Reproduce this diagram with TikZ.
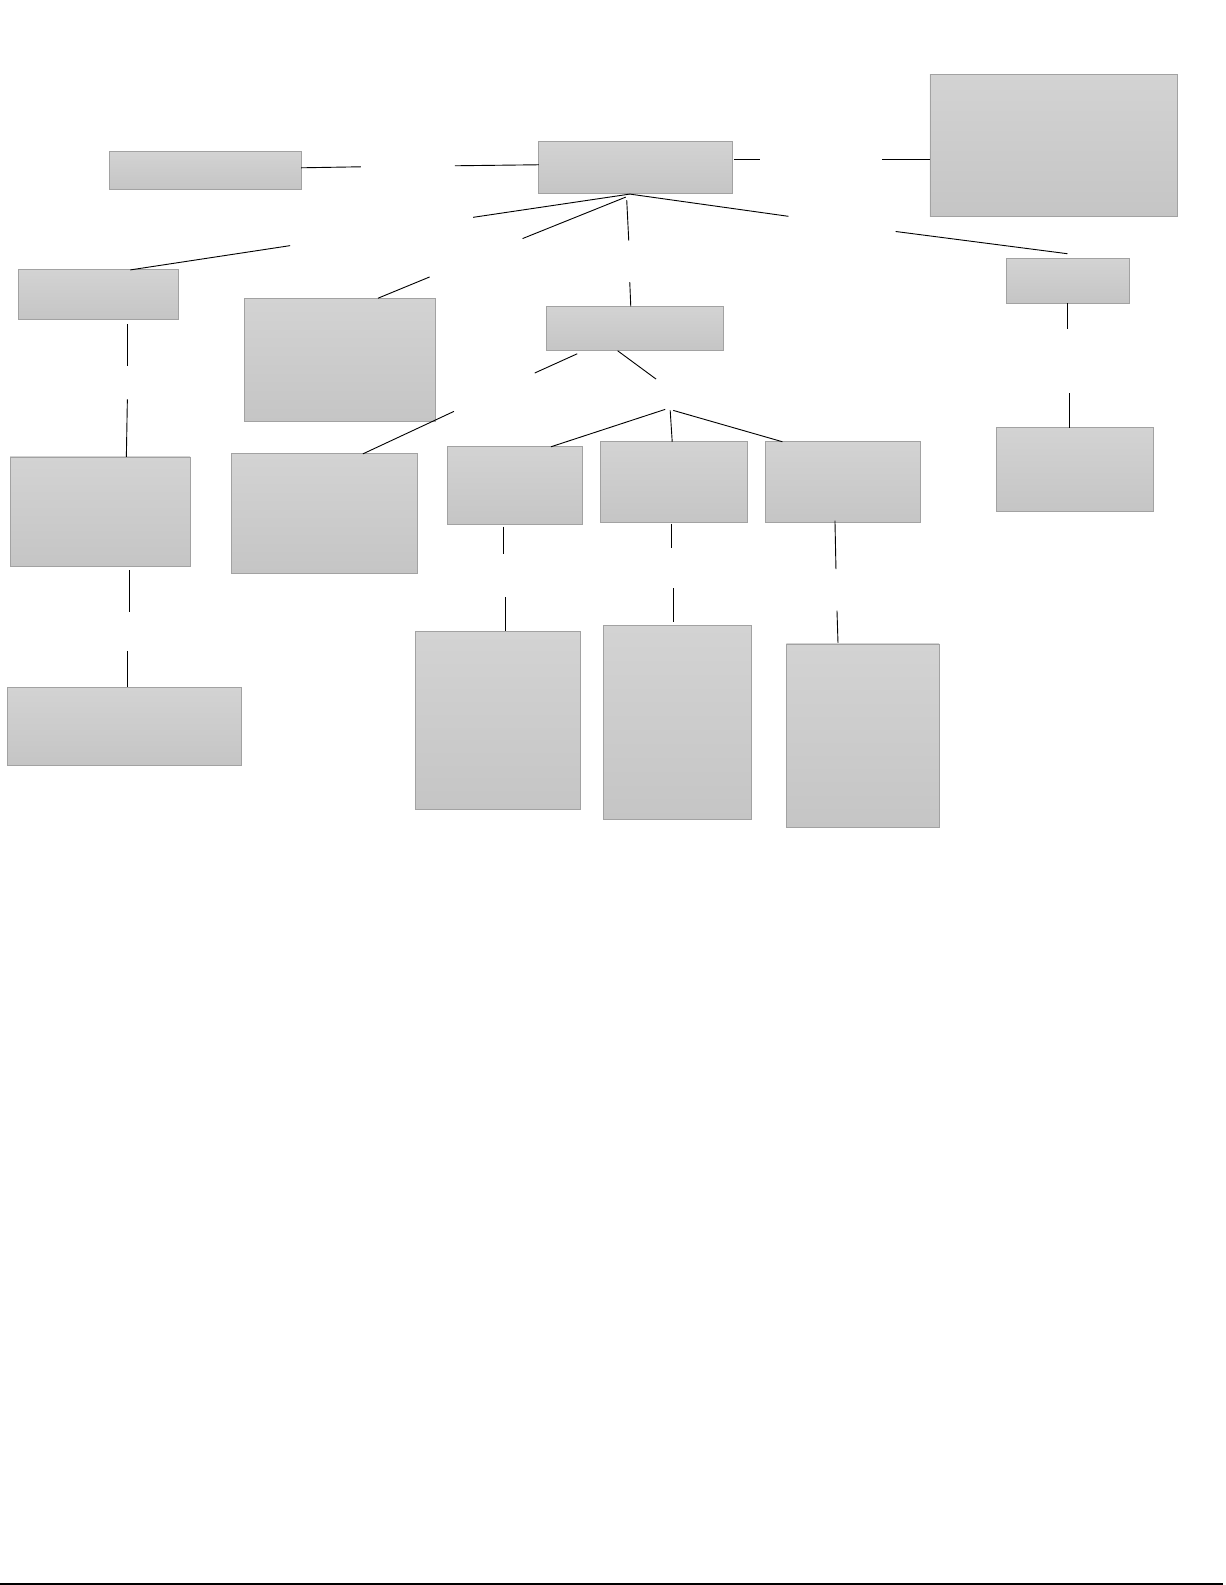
\documentclass[tikz,border=0pt]{standalone}
\usetikzlibrary{calc}
\definecolor{boxtop}{HTML}{D3D3D3}
\definecolor{boxbot}{HTML}{C5C5C5}
\definecolor{boxline}{HTML}{A2A2A2}
\tikzset{
  cbox/.style={rectangle, draw=boxline, line width=0.8pt, top color=boxtop, bottom color=boxbot, inner sep=0pt, outer sep=0pt},
  link/.style={draw=black, line width=0.9pt},
}
\newcommand\bx[5]{\node[cbox, minimum width={(#4-#2)*1pt}, minimum height={(#5-#3)*1pt}] (#1) at ({(#2+#4)/2},{(#3+#5)/2}) {};}
\begin{document}
\begin{tikzpicture}[x=1pt,y=-1pt]
\useasboundingbox (0,0) rectangle (1212,1568);
% boxes
\bx{A}{108}{150}{298}{187}
\bx{C}{533}{140}{725}{191}
\bx{TR}{920}{74}{1165}{214}
\bx{L1}{18}{267}{176}{316}
\bx{M1}{242}{295}{431}{417}
\bx{Mid}{541}{303}{716}{347}
\bx{R1}{996}{256}{1117}{300}
\bx{L2}{10}{452}{188}{560}
\bx{M2}{229}{449}{413}{567}
\bx{B1}{443}{442}{576}{519}
\bx{B2}{594}{437}{739}{517}
\bx{B3}{757}{437}{911}{517}
\bx{R2}{986}{423}{1141}{506}
\bx{L3}{7}{680}{239}{757}
\bx{C1}{411}{625}{574}{801}
\bx{C2}{597}{619}{743}{811}
\bx{C3}{778}{637}{929}{819}
% free ends
\coordinate (e1) at (357,165);
\coordinate (e2) at (450,164);
\coordinate (e3) at (752,158);
\coordinate (e4) at (873,158);
\coordinate (e5) at (468,215);
\coordinate (e6) at (517,236);
\coordinate (e7) at (622,238);
\coordinate (e8) at (780,214);
\coordinate (e9) at (287,243);
\coordinate (e10) at (425,274);
\coordinate (e11) at (623,279);
\coordinate (e12) at (886,229);
\coordinate (e13) at (126,362);
\coordinate (e14) at (126,395);
\coordinate (e15) at (529,369);
\coordinate (e16) at (649,375);
\coordinate (e17) at (449,407);
\coordinate (e18) at (658,405);
\coordinate (e19) at (663,406);
\coordinate (e20) at (666,406);
\coordinate (e21) at (1056,325);
\coordinate (e22) at (1058,389);
\coordinate (e23) at (128,605);
\coordinate (e24) at (126,644);
\coordinate (e25) at (498,548);
\coordinate (e26) at (500,591);
\coordinate (e27) at (664,542);
\coordinate (e28) at (666,582);
\coordinate (e29) at (827,563);
\coordinate (e30) at (828,604);
\coordinate (f1) at (0,1567);
\coordinate (f2) at (1210,1567);
% connectors
\draw[link] ($(A.north west)+(190,16)$) -- (e1);
\draw[link] (e2) -- ($(C.north west)+(0,23)$);
\draw[link] ($(C.north west)+(193,18)$) -- (e3);
\draw[link] (e4) -- ($(TR.north west)+(0,84)$);
\draw[link] ($(C.north west)+(90,52)$) -- (e5);
\draw[link] ($(C.north west)+(86,55)$) -- (e6);
\draw[link] ($(C.north west)+(87,58)$) -- (e7);
\draw[link] ($(C.north west)+(90,52)$) -- (e8);
\draw[link] (e9) -- ($(L1.north west)+(111,0)$);
\draw[link] (e10) -- ($(M1.north west)+(132,0)$);
\draw[link] (e11) -- ($(Mid.north west)+(83,0)$);
\draw[link] (e12) -- ($(R1.north west)+(60,-5)$);
\draw[link] ($(L1.north west)+(108,54)$) -- (e13);
\draw[link] (e14) -- ($(L2.north west)+(115,0)$);
\draw[link] ($(Mid.north west)+(30,47)$) -- (e15);
\draw[link] ($(Mid.north west)+(70,44)$) -- (e16);
\draw[link] (e17) -- ($(M2.north west)+(130,0)$);
\draw[link] (e18) -- ($(B1.north west)+(102,0)$);
\draw[link] (e19) -- ($(B2.north west)+(71,0)$);
\draw[link] (e20) -- ($(B3.north west)+(17,0)$);
\draw[link] ($(R1.north west)+(60,44)$) -- (e21);
\draw[link] (e22) -- ($(R2.north west)+(72,0)$);
\draw[link] ($(L2.north west)+(118,112)$) -- (e23);
\draw[link] (e24) -- ($(L3.north west)+(119,0)$);
\draw[link] ($(B1.north west)+(55,79)$) -- (e25);
\draw[link] (e26) -- ($(C1.north west)+(89,-1)$);
\draw[link] ($(B2.north west)+(70,81)$) -- (e27);
\draw[link] (e28) -- ($(C2.north west)+(69,-4)$);
\draw[link] ($(B3.north west)+(69,78)$) -- (e29);
\draw[link] (e30) -- ($(C3.north west)+(51,-1)$);
\draw[draw=black, line width=1.8pt] (f1) -- (f2);
\end{tikzpicture}
\end{document}
